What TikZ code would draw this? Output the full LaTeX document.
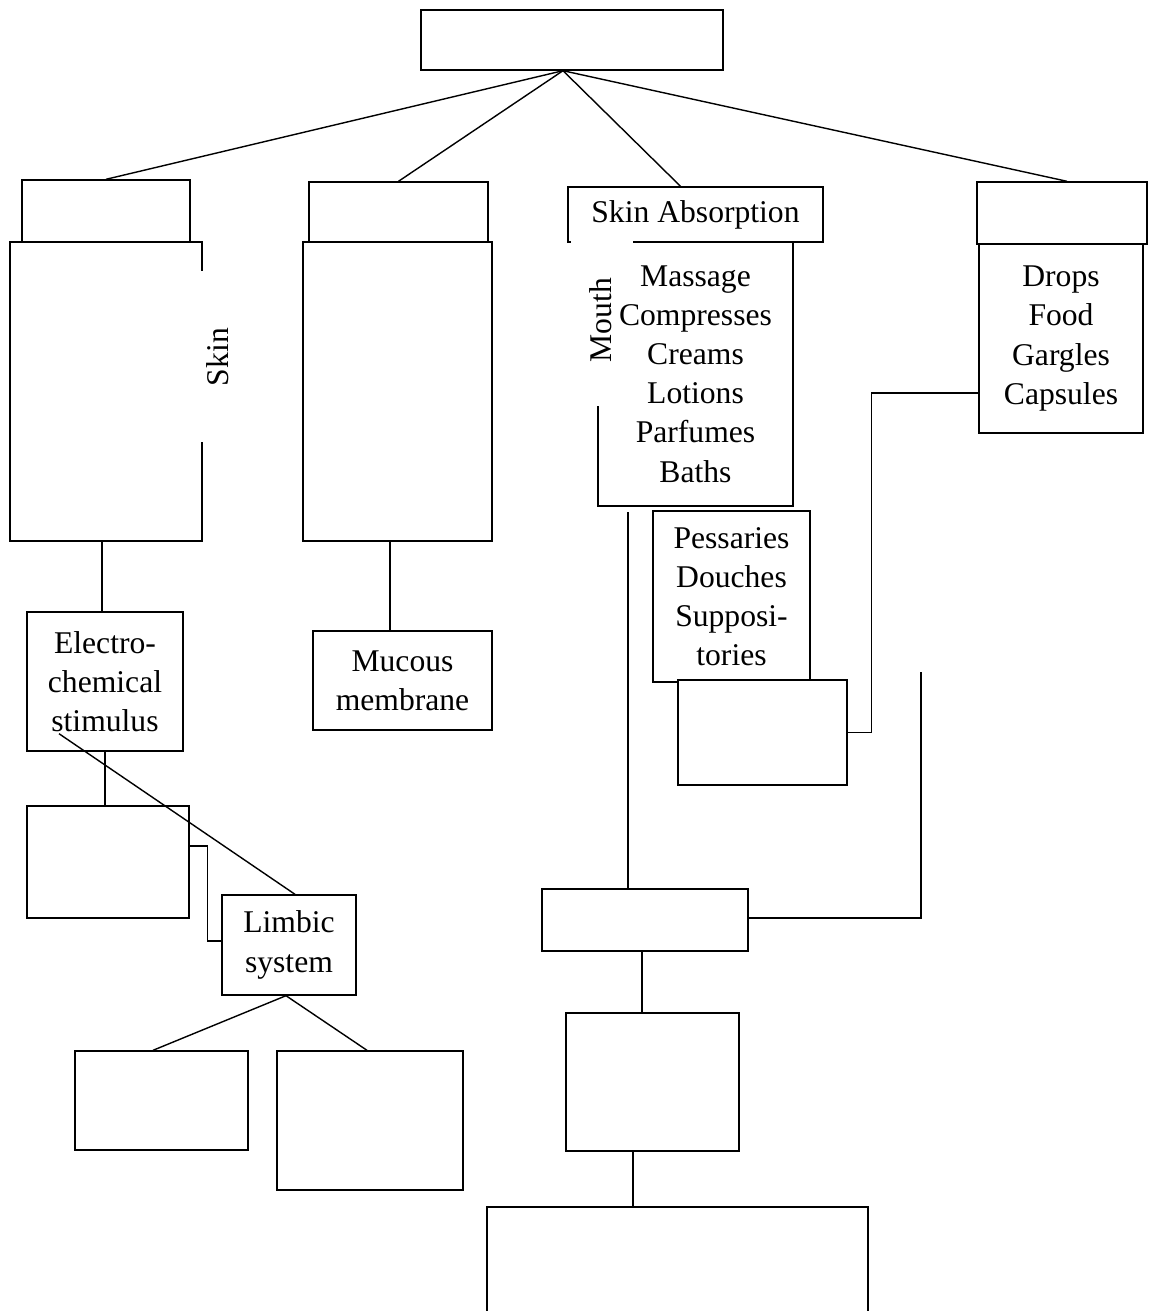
\documentclass[tikz,border=0pt]{standalone}
\usepackage{fontspec}
\setmainfont{Liberation Serif}
\usetikzlibrary{calc}
\tikzset{
  box/.style={
    draw=black, fill=white, line width=0.8pt,
    inner sep=0pt, align=center,
    font=\fontsize{18}{22.3}\selectfont
  },
  sidelabel/.style={
    rotate=90, inner sep=0pt,
    font=\fontsize{18}{22.3}\selectfont
  },
  link/.style={draw=black, line width=0.8pt}
}
\begin{document}
\begin{tikzpicture}[x=0.02cm, y=-0.02cm,
        head/.style={box, minimum height=1.22cm}
      ]
        \useasboundingbox (0,0) rectangle (1154,1311);
        \clip (0,0) rectangle (1154,1311);
        \node[box, minimum width=6.04cm, minimum height=1.2cm] (top) at (572,40) {};
        \node[head, minimum width=3.36cm, minimum height=1.24cm] (hdA) at (106,211) {};
        \node[box, minimum width=3.84cm, minimum height=5.98cm] (bodyA) at (106,391.5) {};
        \node[head, minimum width=3.58cm, minimum height=1.2cm] (hdB) at (398.5,212) {};
        \node[box, minimum width=3.78cm, minimum height=5.98cm] (bodyB) at (397.5,391.5) {};
        \node[box, minimum width=3.58cm, minimum height=1.98cm] (mucous) at (402.5,680.5) {Mucous\\membrane};
        \node[box, minimum width=3.12cm, minimum height=2.78cm] (electro) at (105,681.5) {Electro-\\chemical\\stimulus};
        \node[box, minimum width=3.24cm, minimum height=2.24cm] (nerve) at (108,862) {};
        \node[box, minimum width=2.68cm, minimum height=2.0cm] (limbic) at (289,945) {Limbic\\system};
        \node[box, minimum width=3.46cm, minimum height=1.98cm] (leafL) at (161.5,1100.5) {};
        \node[box, minimum width=3.72cm, minimum height=2.78cm] (leafR) at (370,1120.5) {};
        \node[box, minimum width=5.1cm, minimum height=1.1cm] (absorb) at (695.5,214.5) {Skin Absorption};
        \node[box, minimum width=3.9cm, minimum height=5.28cm] (topical) at (695.5,374) {Massage\\Compresses\\Creams\\Lotions\\Parfumes\\Baths};
        \node[head, minimum width=3.4cm, minimum height=1.24cm] (hdD) at (1062,213) {};
        \node[box, minimum width=3.28cm, minimum height=3.78cm] (oral) at (1061,338.5) {Drops\\Food\\Gargles\\Capsules};
        \node[box, minimum width=3.14cm, minimum height=3.42cm] (vaginal) at (731.5,596.5) {Pessaries\\Douches\\Supposi-\\tories};
        \node[box, minimum width=3.38cm, minimum height=2.1cm] (rectal) at (762.5,732.5) {};
        \node[box, minimum width=4.12cm, minimum height=1.24cm] (blood) at (645,920) {};
        \node[box, minimum width=3.46cm, minimum height=2.76cm] (organs) at (652.5,1082) {};
        \node[box, minimum width=7.62cm, minimum height=2.66cm] (base) at (677.5,1273.5) {};
        \fill[white] (196,271) rectangle (240,442);
        \fill[white] (571,239) rectangle (614,406);
        \fill[white] (571,239) rectangle (633,245);
        \node[sidelabel] (skin) at (218,357) {Skin};
        \node[sidelabel] (mouth) at (601,320) {Mouth};
        \coordinate (lungTop) at (628,512);
        \coordinate (nasalTop) at (921,672);
        \draw[link] ([xshift=-0.18cm]top.south) -- (hdA.north);
        \draw[link] ([xshift=-0.18cm]top.south) -- (hdB.north);
        \draw[link] ([xshift=-0.18cm]top.south) -- ([xshift=-0.3cm]absorb.north);
        \draw[link] ([xshift=-0.18cm]top.south) -- ([xshift=0.1cm]hdD.north);
        \draw[link] ([xshift=-0.08cm]bodyA.south) -- ([xshift=-0.08cm]bodyA.south |- electro.north);
        \draw[link] ([xshift=-0.15cm]bodyB.south) -- ([xshift=-0.15cm]bodyB.south |- mucous.north);
        \draw[link] (electro.south) -- (electro.south |- nerve.north);
        \draw[link] ([shift={(-0.92cm,0.36cm)}]electro.south) -- ([xshift=0.12cm]limbic.north);
        \draw[link] ([yshift=0.32cm]nerve.east) -- ++(18,0) |- ([yshift=0.08cm]limbic.west);
        \draw[link] ([xshift=-0.06cm]limbic.south) -- ([xshift=-0.17cm]leafL.north);
        \draw[link] ([xshift=-0.06cm]limbic.south) -- ([xshift=-0.06cm]leafR.north);
        \draw[link] ([yshift=-1.09cm]oral.west) -- ++(-107,0) |- (rectal.east);
        \draw[link] (lungTop) -- (lungTop |- blood.north);
        \draw[link] (nasalTop) |- ([yshift=0.04cm]blood.east);
        \draw[link] ([xshift=-0.06cm]blood.south) -- ([xshift=-0.06cm]blood.south |- organs.north);
        \draw[link] ([xshift=-0.39cm]organs.south) -- ([xshift=-0.39cm]organs.south |- base.north);
      \end{tikzpicture}
\end{document}
